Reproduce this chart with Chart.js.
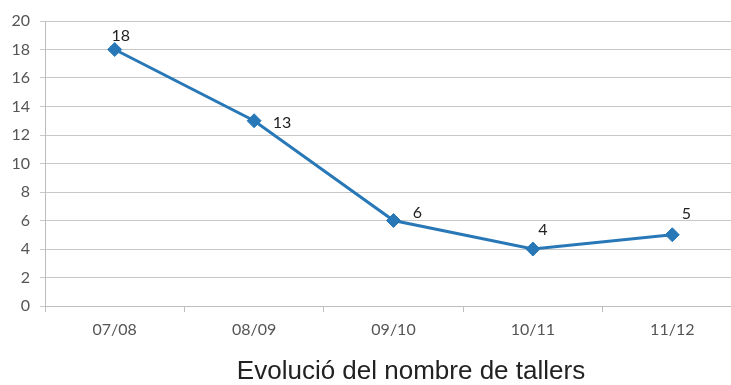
<!DOCTYPE html>
<html>
<head>
<meta charset="utf-8">
<script src="https://cdn.jsdelivr.net/npm/chart.js@4"></script>
<style>
  html, body { margin: 0; padding: 0; background: #fff; overflow: hidden; width: 731px; height: 385px; }
  #wrap { position: relative; width: 731px; height: 385px; overflow: hidden; }
  #line-chart { display: block; }
  #chart-title {
    position: absolute; left: 211px; top: 357px; width: 400px;
    text-align: center; font: 26px/26px "Liberation Sans", Arial, sans-serif;
    color: #222;
  }
</style>
</head>
<body>
<div id="wrap">
  <!-- canvas is wider than the page: the original plot runs past the right edge -->
  <canvas id="line-chart" width="750" height="385"></canvas>
  <div id="chart-title">Evolució del nombre de tallers</div>
</div>
<script>
// data
const seasons = ["07/08", "08/09", "09/10", "10/11", "11/12"];
const workshops = [18, 13, 6, 4, 5];

// where each value label sits relative to its marker (hand placed in the original)
const labelShift = [[6, -14], [28, 2], [24, -8], [10, -19], [14, -21]];

const valueLabels = {
  id: "valueLabels",
  afterDatasetsDraw(chart) {
    const ctx = chart.ctx;
    const pts = chart.getDatasetMeta(0).data;
    ctx.save();
    ctx.font = "16px Lato, sans-serif";
    ctx.fillStyle = "#222";
    ctx.textAlign = "center";
    ctx.textBaseline = "middle";
    pts.forEach((p, i) => {
      const s = labelShift[i] || [8, -14];
      ctx.fillText(chart.data.datasets[0].data[i], p.x + s[0], p.y + s[1]);
    });
    ctx.restore();
  },
};

new Chart(document.getElementById("line-chart"), {
  type: "line",
  data: {
    labels: seasons,
    datasets: [
      {
        label: "Tallers",
        data: workshops,
        borderColor: "#2878b8",
        backgroundColor: "#2878b8",
        borderWidth: 3,
        pointStyle: "rectRot",
        pointRadius: 7,
        pointBorderWidth: 1,
        tension: 0,
        fill: false,
        clip: false,
      },
    ],
  },
  options: {
    responsive: false,
    animation: false,
    layout: { padding: { top: 21, left: 0, right: 0, bottom: 0 } },
    plugins: {
      legend: { display: false },
      title: { display: false },
      tooltip: { enabled: false },
    },
    scales: {
      x: {
        offset: true,
        afterFit: (s) => { s.height = 79; },
        grid: { offset: true, drawOnChartArea: false, tickLength: 6, color: "#bdbdbd" },
        border: { color: "#bdbdbd" },
        ticks: { color: "#555", padding: 8, font: { family: "Lato", size: 16 } },
      },
      y: {
        min: 0,
        max: 20,
        afterFit: (s) => { s.width = 45; },
        grid: { color: "#c8c8c8", tickLength: 5 },
        border: { color: "#bdbdbd" },
        ticks: { stepSize: 2, color: "#555", padding: 10, font: { family: "Lato", size: 16 } },
      },
    },
  },
  plugins: [valueLabels],
});
</script>
</body>
</html>
